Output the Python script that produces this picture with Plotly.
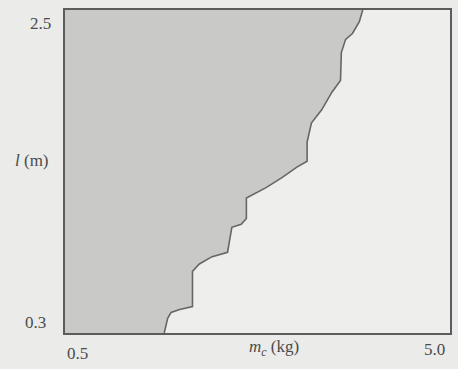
import plotly.graph_objects as go

# Boundary of the feasible region in the (m_c, l) plane, from bottom to top
boundary_mc = [1.66, 1.70, 1.74, 1.84, 1.99, 1.99, 2.07, 2.22, 2.40, 2.45, 2.56,
               2.62, 2.62, 2.85, 3.04, 3.21, 3.33, 3.33, 3.38, 3.50, 3.62, 3.72,
               3.73, 3.78, 3.86, 3.94, 3.98]
boundary_l = [0.30, 0.40, 0.44, 0.46, 0.48, 0.72, 0.77, 0.82, 0.85, 1.02, 1.04,
              1.08, 1.22, 1.29, 1.36, 1.43, 1.47, 1.60, 1.73, 1.82, 1.94, 2.02,
              2.21, 2.30, 2.34, 2.42, 2.50]

x_range = [0.5, 5.0]
y_range = [0.3, 2.5]
x_tick_labels = ["0.5", "5.0"]
y_tick_labels = ["0.3", "2.5"]
x_title = "<i>m</i><sub><i>c</i></sub> (kg)"
y_title = "<i>l</i> (m)"

text_color = "#4a4a4a"
frame_color = "#5c5c5c"
font_family = "Liberation Serif"

fig = go.Figure()
fig.add_trace(go.Scatter(
    x=boundary_mc, y=boundary_l,
    mode="lines",
    fill="tozerox",
    fillcolor="#c9cac8",
    line=dict(color="#666666", width=1.6),
    hoverinfo="skip",
))

axis_common = dict(
    showgrid=False, zeroline=False, showticklabels=False, ticks="",
    showline=True, mirror=True, linecolor=frame_color, linewidth=1.6,
)
fig.update_xaxes(range=x_range, **axis_common)
fig.update_yaxes(range=y_range, **axis_common)

font = dict(family=font_family, size=17, color=text_color)
annotations = [
    # x-axis end labels
    dict(x=x_range[0], y=0, xref="x", yref="paper", text=x_tick_labels[0],
         xanchor="left", yanchor="middle", xshift=0, yshift=-20, showarrow=False, font=font),
    dict(x=x_range[1], y=0, xref="x", yref="paper", text=x_tick_labels[1],
         xanchor="right", yanchor="middle", xshift=-3, yshift=-16, showarrow=False, font=font),
    # y-axis end labels
    dict(x=0, y=y_range[0], xref="paper", yref="y", text=y_tick_labels[0],
         xanchor="right", yanchor="middle", xshift=-17, yshift=11, showarrow=False, font=font),
    dict(x=0, y=y_range[1], xref="paper", yref="y", text=y_tick_labels[1],
         xanchor="right", yanchor="middle", xshift=-12, yshift=-13, showarrow=False, font=font),
    # axis titles
    dict(x=0.5426, y=0, xref="paper", yref="paper", text=x_title,
         xanchor="center", yanchor="middle", yshift=-15, showarrow=False, font=font),
    dict(x=0, y=0.5356, xref="paper", yref="paper", text=y_title,
         xanchor="center", yanchor="middle", xshift=-33, showarrow=False, font=font),
]

fig.update_layout(
    width=458, height=369,
    margin=dict(l=65, r=6, t=10, b=36),
    paper_bgcolor="#ebecea",
    plot_bgcolor="#eeefed",
    showlegend=False,
    annotations=annotations,
)

fig.write_html("out.html")
